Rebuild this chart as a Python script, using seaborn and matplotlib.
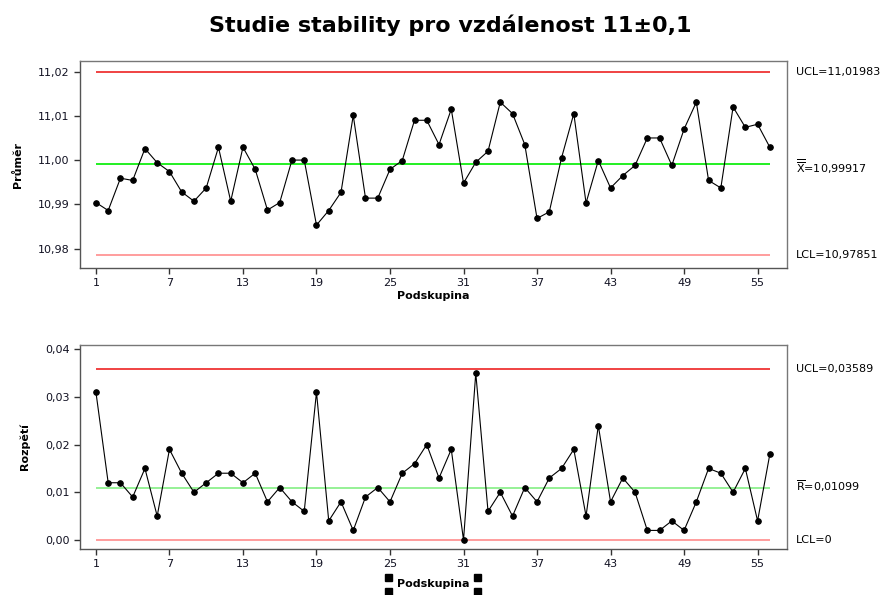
import numpy as np
import pandas as pd
import seaborn as sns
import matplotlib
matplotlib.use("Agg")
import matplotlib.pyplot as plt
from matplotlib.ticker import FuncFormatter
from matplotlib.patches import Rectangle

# subgroup means (Prumer) and ranges (Rozpeti)
subgroup = np.arange(1, 57)
means = [10.9904, 10.9886, 10.9959, 10.9954, 11.0026, 10.9994, 10.9974, 10.9928, 10.9907, 10.9937,
         11.0029, 10.9907, 11.0029, 10.9979, 10.9887, 10.9904, 11.0000, 11.0000, 10.9853, 10.9886,
         10.9927, 11.0101, 10.9914, 10.9914, 10.9979, 10.9999, 11.0090, 11.0090, 11.0035, 11.0115,
         10.9948, 10.9995, 11.0020, 11.0131, 11.0105, 11.0035, 10.9868, 10.9883, 11.0005, 11.0105,
         10.9903, 10.9999, 10.9937, 10.9965, 10.9988, 11.0050, 11.0050, 10.9988, 11.0070, 11.0131,
         10.9954, 10.9937, 11.0120, 11.0074, 11.0081, 11.0029]
ranges = [0.031, 0.012, 0.012, 0.009, 0.015, 0.005, 0.019, 0.014, 0.010, 0.012,
          0.014, 0.014, 0.012, 0.014, 0.008, 0.011, 0.008, 0.006, 0.031, 0.004,
          0.008, 0.002, 0.009, 0.011, 0.008, 0.014, 0.016, 0.020, 0.013, 0.019,
          0.000, 0.035, 0.006, 0.010, 0.005, 0.011, 0.008, 0.013, 0.015, 0.019,
          0.005, 0.024, 0.008, 0.013, 0.010, 0.002, 0.002, 0.004, 0.002, 0.008,
          0.015, 0.014, 0.010, 0.015, 0.004, 0.018]

xbar_limits = {"ucl": 11.01983, "cl": 10.99917, "lcl": 10.97851}
r_limits = {"ucl": 0.03589, "cl": 0.01099, "lcl": 0.0}
xticks = [1, 7, 13, 19, 25, 31, 37, 43, 49, 55]

sns.set_style("white")
plt.rcParams['font.family'] = ['DejaVu Sans']
plt.rcParams['text.color'] = 'black'
plt.rcParams['axes.labelcolor'] = 'black'

df = pd.DataFrame({"Podskupina": subgroup, "mean": means, "range": ranges})

fig = plt.figure(figsize=(8.86, 5.95), dpi=100)
ax1 = fig.add_axes([80 / 886, 1 - 268 / 595, 707 / 886, 207 / 595])
ax2 = fig.add_axes([80 / 886, 1 - 549 / 595, 707 / 886, 204 / 595])

comma = FuncFormatter(lambda v, p: f"{v:.2f}".replace(".", ","))


def control_chart(ax, col, lim, cl_color, ylab, ylim, yticks, cl_text, cl_dy, xpad):
    ax.hlines(lim["ucl"], 1, 56, color="#ee2222", lw=1.2, zorder=1)
    ax.hlines(lim["cl"], 1, 56, color=cl_color, lw=1.3, zorder=1)
    ax.hlines(lim["lcl"], 1, 56, color="#ff8c8c", lw=1.2, zorder=1)
    sns.lineplot(data=df, x="Podskupina", y=col, ax=ax, color="black", lw=0.8,
                 marker="o", markersize=4, markeredgecolor="black", zorder=3)
    ax.set_xlim(-0.3, 57.4)
    ax.set_ylim(*ylim)
    ax.set_xticks(xticks)
    ax.set_yticks(yticks)
    ax.yaxis.set_major_formatter(comma)
    ax.tick_params(axis="both", direction="out", length=4.5, width=1, color="#333333",
                   labelsize=8, labelcolor="#111122", left=True, bottom=True, pad=3)
    for s in ax.spines.values():
        s.set_color("#777777")
        s.set_linewidth(1)
    ax.spines["left"].set_color("#555555")
    ax.spines["bottom"].set_color("#555555")
    ax.set_xlabel("Podskupina", fontsize=8, fontweight="bold", labelpad=xpad)
    ax.set_ylabel(ylab, fontsize=8, fontweight="bold", labelpad=11)
    tr = ax.get_yaxis_transform()
    ax.text(1.013, lim["ucl"], f"UCL={lim['ucl']}".replace(".", ","), transform=tr,
            fontsize=8, va="center", ha="left")
    ax.annotate(cl_text, (1.013, lim["cl"]), xycoords=tr, xytext=(0, cl_dy),
                textcoords="offset points", fontsize=8, va="center", ha="left")
    lcl = "0" if lim["lcl"] == 0 else f"{lim['lcl']}".replace(".", ",")
    ax.text(1.013, lim["lcl"], f"LCL={lcl}", transform=tr, fontsize=8, va="center", ha="left")


control_chart(ax1, "mean", xbar_limits, "#11ee11", "Průměr", (10.9756, 11.0224),
              [10.98, 10.99, 11.00, 11.01, 11.02], r"$\overline{\overline{\mathrm{X}}}$=10,99917", -2, 2)
control_chart(ax2, "range", r_limits, "#8ef08e", "Rozpětí", (-0.0019, 0.0409),
              [0.00, 0.01, 0.02, 0.03, 0.04], r"$\overline{\mathrm{R}}$=0,01099", 1, 7)

fig.suptitle("Studie stability pro vzdálenost 11±0,1", fontsize=16, fontweight="bold",
             color="black", x=450 / 886, y=1 - 25 / 595, va="center")

# selection handles around the lower axis label
for hx, hy in [(385, 574), (385, 588), (474, 574), (474, 588)]:
    fig.add_artist(Rectangle((hx / 886, 1 - (hy + 7) / 595), 7 / 886, 7 / 595,
                             transform=fig.transFigure, color="black"))

fig.savefig("out.png", dpi=100)
